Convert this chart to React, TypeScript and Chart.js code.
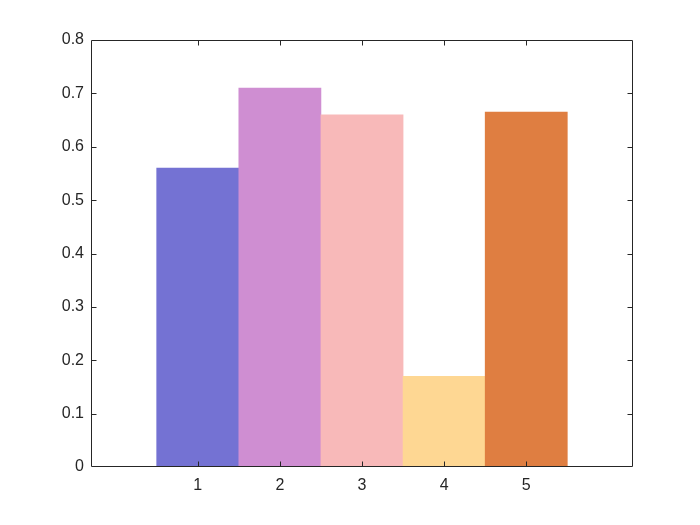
import React, { useEffect, useRef } from "react";
import { Chart, registerables } from "chart.js";

Chart.register(...registerables);

const categories = [1, 2, 3, 4, 5];
const values = [0.56, 0.71, 0.66, 0.17, 0.665];
const barColors = ["#7472D3", "#CF8ED2", "#F8B9B9", "#FED793", "#DF7E41"];
const yTicks = [0, 0.1, 0.2, 0.3, 0.4, 0.5, 0.6, 0.7, 0.8];

const axisColor = "#262626";

const boxPlugin = {
  id: "matlabBox",
  afterDatasetsDraw(chart: any) {
    const { ctx, chartArea, scales } = chart;
    const left = Math.round(chartArea.left) + 0.5;
    const right = Math.round(chartArea.right) - 0.5;
    const top = Math.round(chartArea.top) + 0.5;
    const bottom = Math.round(chartArea.bottom) - 0.5;
    const len = 5;
    ctx.save();
    ctx.strokeStyle = axisColor;
    ctx.lineWidth = 1;
    ctx.beginPath();
    ctx.moveTo(left, top);
    ctx.lineTo(right, top);
    ctx.lineTo(right, bottom);
    ctx.lineTo(left, bottom);
    ctx.closePath();
    ctx.stroke();
    ctx.beginPath();
    categories.forEach((c) => {
      const x = Math.round(scales.x.getPixelForValue(c)) + 0.5;
      ctx.moveTo(x, bottom);
      ctx.lineTo(x, bottom - len);
      ctx.moveTo(x, top);
      ctx.lineTo(x, top + len);
    });
    yTicks.forEach((t) => {
      const y = Math.round(scales.y.getPixelForValue(t)) + 0.5;
      if (t === 0 || t === 0.8) return;
      ctx.moveTo(left, y);
      ctx.lineTo(left + len, y);
      ctx.moveTo(right, y);
      ctx.lineTo(right - len, y);
    });
    ctx.stroke();
    ctx.restore();
  },
};

export default function App() {
  const ref = useRef<HTMLCanvasElement>(null);
  useEffect(() => {
    document.body.style.margin = "0";
    const canvas = ref.current!;
    const chart = new Chart(canvas, {
      type: "bar",
      data: {
        datasets: [
          {
            data: categories.map((c, i) => ({ x: c, y: values[i] })),
            backgroundColor: barColors,
            borderWidth: 0,
            barPercentage: 1,
            categoryPercentage: 1,
          },
        ],
      },
      options: {
        animation: false,
        responsive: false,
        devicePixelRatio: 1,
        layout: { padding: { left: 0, right: 67, top: 40, bottom: 0 } },
        plugins: { legend: { display: false }, tooltip: { enabled: false } },
        scales: {
          x: {
            type: "linear",
            offset: false,
            min: -0.3,
            max: 6.3,
            afterBuildTicks: (s: any) => {
              s.ticks = categories.map((v) => ({ value: v }));
            },
            afterFit: (s: any) => {
              s.height = 58;
            },
            grid: { display: false, drawTicks: false },
            border: { display: false },
            ticks: {
              padding: 9,
              color: axisColor,
              font: { family: "Liberation Sans, Arial", size: 16 },
              callback: (v: any) => String(v),
            },
          },
          y: {
            min: 0,
            max: 0.8,
            afterBuildTicks: (s: any) => {
              s.ticks = yTicks.map((v) => ({ value: v }));
            },
            afterFit: (s: any) => {
              s.width = 91;
            },
            grid: { display: false, drawTicks: false },
            border: { display: false },
            ticks: {
              padding: 7,
              color: axisColor,
              font: { family: "Liberation Sans, Arial", size: 16 },
              callback: (v: any) => String(Math.round(v * 10) / 10),
            },
          },
        },
      },
      plugins: [boxPlugin],
    });
    return () => chart.destroy();
  }, []);
  return (
    <div style={{ width: 700, height: 525, background: "#fff" }}>
      <canvas ref={ref} width={700} height={525} />
    </div>
  );
}
